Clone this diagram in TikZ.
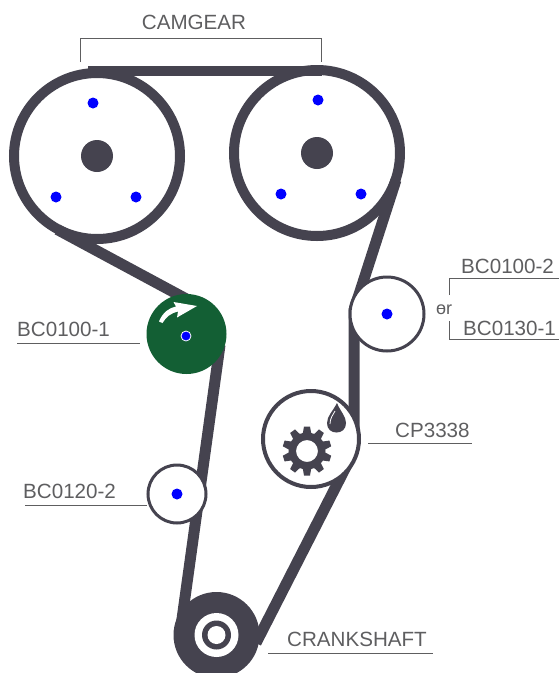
\documentclass[tikz,border=0pt]{standalone}
\usepackage{fontspec}
\setmainfont{Liberation Sans}
\usepackage{xcolor}
\usetikzlibrary{arrows.meta,positioning,calc}
\definecolor{beltcol}{HTML}{45434F}
\definecolor{idlergreen}{HTML}{135F34}
\definecolor{labelcol}{HTML}{5E5E60}
\begin{document}
\begin{tikzpicture}[
  x=1pt, y=-1pt,
  belt/.style={draw=beltcol, line width=11pt},
  cam/.style={circle, draw=beltcol, line width=10pt, fill=white, minimum size=166pt, inner sep=0pt},
  hub/.style={circle, fill=beltcol, minimum size=32pt, inner sep=0pt},
  dot/.style={circle, fill=blue, minimum size=11pt, inner sep=0pt},
  idler/.style={circle, draw=beltcol, line width=3pt, fill=white, inner sep=0pt},
  lead/.style={draw=labelcol, line width=1pt},
  lab/.style={text=labelcol, font=\fontsize{20.6pt}{22pt}\selectfont, inner sep=0pt}
]
  \useasboundingbox (0,0) rectangle (559,673);
  \node[cam] (camL) at (97,156) {};
  \node[cam] (camR) at (317,153) {};
  % belts over the cam rings, small pulleys sit on top of them
  \coordinate (camLtop) at (88,71);
  \coordinate (camRtop) at (322,71);
  \coordinate (camLout) at (57.3,229.5);
  \coordinate (greenin) at (192,302);
  \coordinate (greenout) at (220,345);
  \coordinate (crankL) at (180.5,630);
  \coordinate (camRout) at (396,180);
  \coordinate (rollR) at (354,310);
  \coordinate (pumpR) at (354,430);
  \coordinate (pumpout) at (352,455);
  \coordinate (crankR) at (256,643);
  \draw[belt, line width=10pt] (camLtop) -- (camRtop);
  \draw[belt] (camLout) -- (greenin);
  \draw[belt] (greenout) -- (crankL);
  \draw[belt, line join=round] (camRout) -- (rollR) -- (pumpR);
  \draw[belt] (pumpout) -- (crankR);

  \node[hub] (hubL) at (97,156) {};
  \node[hub] (hubR) at (317,153) {};
  \node[dot] (dotL1) at (93,103) {};
  \node[dot] (dotL2) at (56,197) {};
  \node[dot] (dotL3) at (136,197) {};
  \node[dot] (dotR1) at (318,100) {};
  \node[dot] (dotR2) at (281,194) {};
  \node[dot] (dotR3) at (361,194) {};

  \node[circle, fill=idlergreen, minimum size=80pt, inner sep=0pt] (green) at (186.5,334) {};
  \node[dot, minimum size=10pt, draw=white, line width=0.8pt] (greendot) at (186,336) {};
  \fill[white] (159,321.5) .. controls (163,312) and (169,308) .. (176,306.5)
    -- (173.5,302) -- (197,306) -- (177,317.5) -- (178,311.5)
    .. controls (171,313) and (166,317) .. (162.5,323) -- cycle;

  \node[idler, minimum size=74pt] (rollBC) at (387,314) {};
  \node[dot] (rollBCdot) at (387,314) {};
  \node[idler, minimum size=58pt] (rollLow) at (177,494) {};
  \node[dot] (rollLowdot) at (177,494) {};

  % pump with gear and oil drop
  \node[idler, line width=4pt, minimum size=96pt] (pump) at (311,439) {};
  \coordinate (gear) at (307,451);
  \foreach \a in {18,54,...,342} {
    \fill[beltcol, rotate around={\a:(gear)}] ($(gear)+(16,-4.5)$) -- ($(gear)+(24.5,-3)$) -- ($(gear)+(24.5,3)$) -- ($(gear)+(16,4.5)$) -- cycle;
  }
  \fill[beltcol, even odd rule] (gear) circle (18.5) (gear) circle (11);
  \fill[beltcol] (337,403) .. controls (333,411) and (327,416) .. (327,423)
    .. controls (327,429) and (331,432.5) .. (336.5,432.5)
    .. controls (342,432.5) and (346,429) .. (346,423)
    .. controls (346,416) and (340,411) .. (337,403) -- cycle;
  \draw[white, line width=0.8pt] (330,424) .. controls (330,418) and (333,415) .. (335,411);

  % crankshaft, cut by the bottom edge
  \begin{scope}
    \clip (0,0) rectangle (559,673);
    \node[circle, fill=beltcol, minimum size=86pt, inner sep=0pt] (crank) at (216.5,635) {};
    \node[circle, fill=white, minimum size=44pt, inner sep=0pt] (crankW) at (216.5,635) {};
    \node[circle, fill=beltcol, minimum size=29pt, inner sep=0pt] (crankD) at (216.5,635) {};
    \node[circle, fill=white, minimum size=18pt, inner sep=0pt] (crankH) at (216.5,635) {};
  \end{scope}

  % labels and leaders
  \node[lab] (lcam) at (194,22) {CAMGEAR};
  \coordinate (bra) at (80,62);
  \coordinate (brb) at (321,62);
  \draw[lead] (bra) -- (80,38) -- (321,38) -- (brb);

  \node[lab, anchor=base west] (l1001) at (17,336) {BC0100-1};
  \coordinate (l1001a) at (17,343);
  \coordinate (l1001b) at (140,343);
  \draw[lead] (l1001a) -- (l1001b);

  \node[lab, anchor=base west] (l1202) at (23,498) {BC0120-2};
  \coordinate (l1202a) at (25,505);
  \coordinate (l1202b) at (147,505);
  \draw[lead] (l1202a) -- (l1202b);

  \node[lab, anchor=base west] (lcp) at (395,437) {CP3338};
  \coordinate (lcpa) at (368,443);
  \coordinate (lcpb) at (472,443);
  \draw[lead] (lcpa) -- (lcpb);

  \node[lab, anchor=base west] (lcrank) at (287,646) {CRANKSHAFT};
  \coordinate (lcranka) at (268,653);
  \coordinate (lcrankb) at (433,653);
  \draw[lead] (lcranka) -- (lcrankb);

  \node[lab, anchor=base west] (l1002) at (461,273) {BC0100-2};
  \node[lab, anchor=base west] (l1301) at (463,335) {BC0130-1};
  \node[lab, anchor=base west, font=\fontsize{18pt}{20pt}\selectfont] (lor) at (436,314) {or};
  \coordinate (bru) at (449,295);
  \coordinate (brl) at (449,321);
  \coordinate (bre1) at (559,278);
  \coordinate (bre2) at (559,339);
  \coordinate (ora) at (437,308);
  \coordinate (orb) at (445,308);
  \draw[lead] (bru) -- (449,278) -- (bre1);
  \draw[lead] (brl) -- (449,339) -- (bre2);
  \draw[lead] (ora) -- (orb);
\end{tikzpicture}
\end{document}
